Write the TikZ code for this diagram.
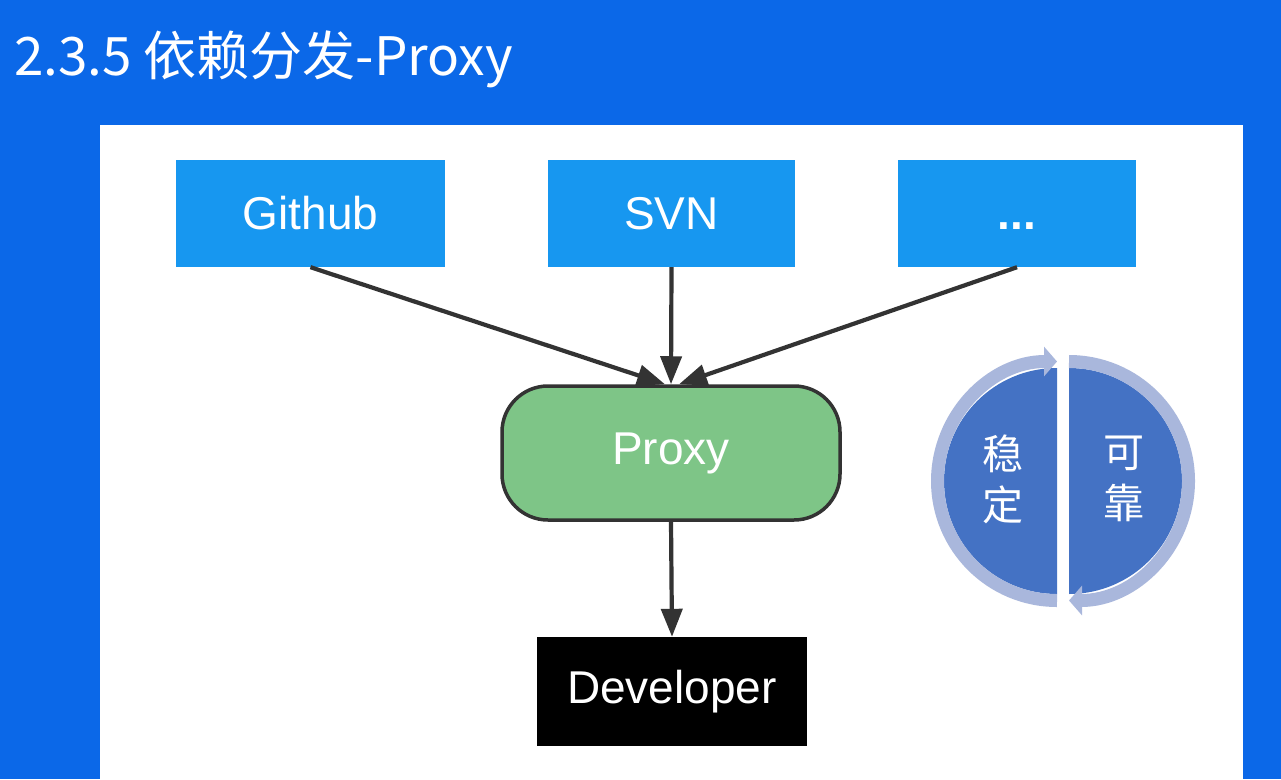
\documentclass[tikz,border=0pt]{standalone}
\usepackage{fontspec}
\setmainfont{Liberation Sans}
\newfontfamily\cjk{Noto Sans CJK SC}
\usepackage{tikz}
\usetikzlibrary{arrows.meta}
\definecolor{slideblue}{RGB}{11,104,232}
\definecolor{srcblue}{RGB}{23,151,240}
\definecolor{proxygreen}{RGB}{126,197,135}
\definecolor{linegray}{RGB}{51,51,51}
\definecolor{ringblue}{RGB}{169,183,220}
\definecolor{halfblue}{RGB}{68,114,196}
\tikzstyle{srcbox} = [fill=srcblue, text=white, rectangle, inner sep=0pt,
    minimum height=107pt, font=\fontsize{46}{50}\selectfont]
\tikzstyle{proxybox} = [fill=proxygreen, draw=linegray, line width=3.5pt, text=white,
    rectangle, rounded corners=46pt, inner sep=0pt, minimum width=338pt,
    minimum height=134pt, font=\fontsize{46}{50}\selectfont]
\tikzstyle{devbox} = [fill=black, text=white, rectangle, inner sep=0pt,
    minimum width=270pt, minimum height=109pt, font=\fontsize{46}{50}\selectfont]
\tikzstyle{flow} = [draw=linegray, line width=4.2pt,
    -{Triangle[length=28pt,width=21pt]}]
\tikzstyle{ring} = [draw=ringblue, line width=13pt,
    -{Triangle[length=13pt,width=29pt]}]
\tikzstyle{halftext} = [text=white, align=center, font=\cjk\fontsize{41}{51}\selectfont]

\begin{document}
\begin{tikzpicture}[x=1pt, y=-1pt]
    % slide background and white panel
    \fill[slideblue] (0,0) rectangle (1281,779);
    \useasboundingbox (0,0) rectangle (1281,779);
    \fill[white] (100,125) rectangle (1243,779);
    \node[anchor=base west, text=white, inner sep=0pt,
        font=\cjk\fontsize{53}{58}\selectfont] (title) at (14,75) {2.3.5 依赖分发-Proxy};

    % sources
    \node[srcbox, minimum width=269pt] (github) at (310.5,213.5) {Github};
    \node[srcbox, minimum width=247pt] (svn) at (671.5,213.5) {SVN};
    \node[srcbox, minimum width=238pt] (more) at (1017,213.5) {\vphantom{Gh}\textbf{...}};

    \node[proxybox] (proxy) at (671,453) {Proxy};
    \node[devbox] (developer) at (672,691.5) {Developer};

    \draw[flow] (github.south) -- ([xshift=-6pt]proxy.north);
    \draw[flow] (svn.south) -- (proxy.north);
    \draw[flow] (more.south) -- ([xshift=8pt]proxy.north);
    \draw[flow] (proxy.south) -- (developer.north);

    % cycle of two halves
    \fill[halfblue] (1057,368) arc[start angle=270, end angle=90, radius=113] -- cycle;
    \fill[halfblue] (1069,368) arc[start angle=-90, end angle=90, radius=113] -- cycle;
    \draw[ring] (1057,600.5) arc[start angle=90, end angle=270, radius=119.5];
    \draw[ring] (1069,361.5) arc[start angle=-90, end angle=90, radius=119.5];
    \node[halftext] (steady) at (1003,479) {稳\\定};
    \node[halftext] (reliable) at (1124,479) {可\\靠};
\end{tikzpicture}
\end{document}
